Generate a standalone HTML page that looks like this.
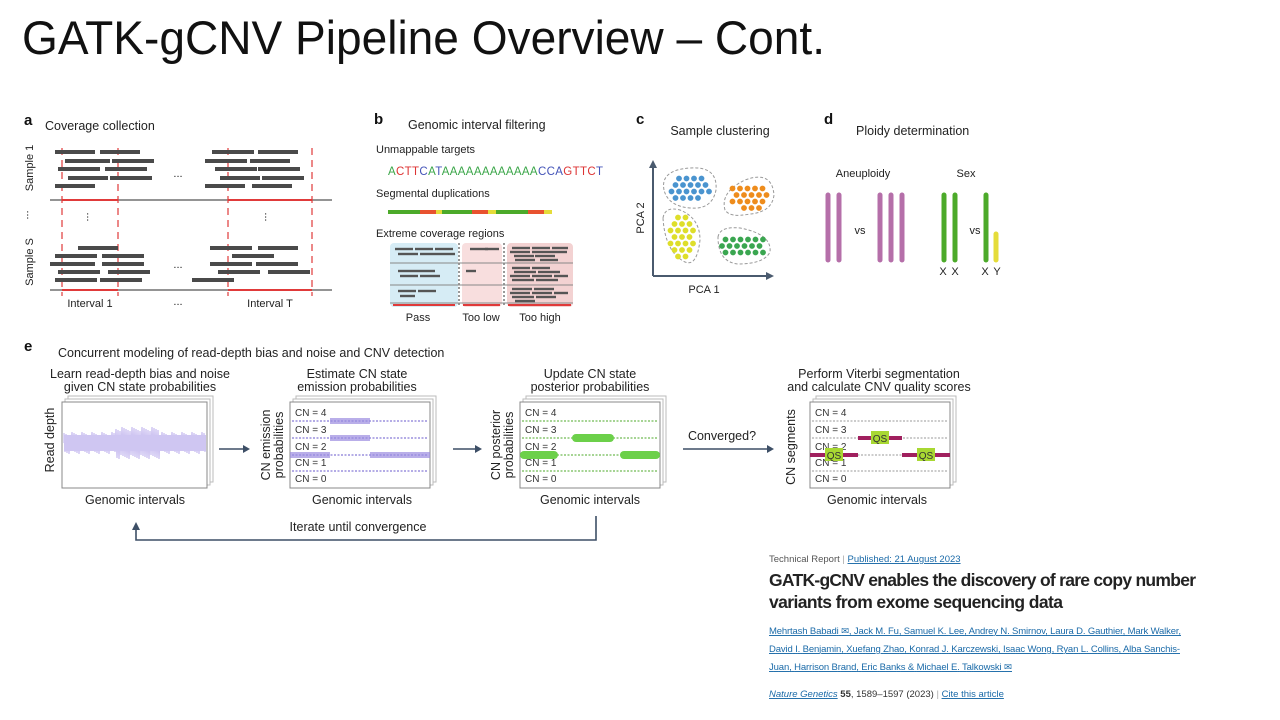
<!DOCTYPE html>
<html><head><meta charset="utf-8"><style>
html,body{margin:0;padding:0;background:#fff;}
svg{display:block;font-family:"Liberation Sans",sans-serif;}
.t{font-size:12.5px;fill:#222}
.s{font-size:11px;fill:#222}
.cn{font-size:10px;fill:#333}
.lnk{font-size:9.5px;fill:#1a6aa8;text-decoration:underline}
</style></head><body>
<svg id="slide" width="1280" height="720" viewBox="0 0 1280 720">
<text x="22" y="54" font-size="47" fill="#111" textLength="803" lengthAdjust="spacingAndGlyphs">GATK-gCNV Pipeline Overview – Cont.</text>

<g id="pa">
<text x="24" y="125" font-weight="bold" font-size="15" fill="#111">a</text>
<text x="45" y="130" class="t">Coverage collection</text>
<text transform="translate(33,168) rotate(-90)" text-anchor="middle" class="s">Sample 1</text>
<text transform="translate(33,262) rotate(-90)" text-anchor="middle" class="s">Sample S</text>
<text x="30" y="218" text-anchor="middle" class="s" transform="rotate(90 30 215)">...</text>
<line x1="50" y1="200" x2="332" y2="200" stroke="#555" stroke-width="1.3"/>
<line x1="50" y1="290" x2="332" y2="290" stroke="#555" stroke-width="1.3"/>
<g stroke="#e03a3a" stroke-width="1.2" stroke-dasharray="7,5">
<line x1="62" y1="148" x2="62" y2="296"/><line x1="118" y1="148" x2="118" y2="296"/>
<line x1="228" y1="148" x2="228" y2="296"/><line x1="312" y1="148" x2="312" y2="296"/></g>
<g stroke="#e03a3a" stroke-width="2"><line x1="62" y1="200" x2="118" y2="200"/><line x1="228" y1="200" x2="312" y2="200"/>
<line x1="62" y1="290" x2="118" y2="290"/><line x1="228" y1="290" x2="312" y2="290"/></g>
<g id="reads"></g>
<text x="178" y="177" text-anchor="middle" class="s">...</text>
<text x="178" y="268" text-anchor="middle" class="s">...</text>
<text x="90" y="220" text-anchor="middle" class="s" transform="rotate(90 90 217)">...</text>
<text x="268" y="220" text-anchor="middle" class="s" transform="rotate(90 268 217)">...</text>
<text x="90" y="307" text-anchor="middle" class="s">Interval 1</text>
<text x="178" y="305" text-anchor="middle" class="s">...</text>
<text x="270" y="307" text-anchor="middle" class="s">Interval T</text>
</g>

<g>
<text x="374" y="124" font-weight="bold" font-size="15" fill="#111">b</text>
<text x="408" y="129" class="t">Genomic interval filtering</text>
<text x="376" y="153" class="s">Unmappable targets</text>
<text x="388" y="175" font-size="11.5" textLength="215"><tspan fill="#3aa648">A</tspan><tspan fill="#d33">CTT</tspan><tspan fill="#4454b8">C</tspan><tspan fill="#3aa648">A</tspan><tspan fill="#4454b8">T</tspan><tspan fill="#3aa648">AAAAAAAAAAAA</tspan><tspan fill="#4454b8">CCA</tspan><tspan fill="#d33">GTTC</tspan><tspan fill="#4454b8">T</tspan></text>
<text x="376" y="197" class="s">Segmental duplications</text>
<g id="segdup"></g>
<text x="376" y="237" class="s">Extreme coverage regions</text>
<rect x="390" y="243" width="68" height="64" rx="4" fill="#d6ecf5"/>
<rect x="462" y="243" width="40" height="64" rx="4" fill="#f8dede"/>
<rect x="507" y="243" width="66" height="64" rx="4" fill="#f3d2d2"/>
<g stroke="#333" stroke-dasharray="2,2"><line x1="459" y1="243" x2="459" y2="307"/><line x1="504" y1="243" x2="504" y2="307"/></g>
<g stroke="#888"><line x1="390" y1="263" x2="573" y2="263"/><line x1="390" y1="285" x2="573" y2="285"/><line x1="390" y1="303" x2="573" y2="303"/></g>
<g id="ecreads"></g>
<text x="418" y="321" text-anchor="middle" class="s">Pass</text>
<text x="481" y="321" text-anchor="middle" class="s">Too low</text>
<text x="540" y="321" text-anchor="middle" class="s">Too high</text>
</g>

<g>
<text x="636" y="124" font-weight="bold" font-size="15" fill="#111">c</text>
<text x="720" y="135" text-anchor="middle" class="t">Sample clustering</text>
<g stroke="#4a5a6e" stroke-width="2" fill="#4a5a6e">
<line x1="653" y1="166" x2="653" y2="276"/><line x1="653" y1="276" x2="768" y2="276"/></g>
<polygon points="653,160 649,168 657,168" fill="#4a5a6e"/><polygon points="774,276 766,272 766,280" fill="#4a5a6e"/>
<text transform="translate(644,218) rotate(-90)" text-anchor="middle" class="s">PCA 2</text>
<text x="704" y="293" text-anchor="middle" class="s">PCA 1</text>
<g fill="none" stroke="#999" stroke-dasharray="3,2">
<path d="M664,190 Q660,170 690,168 Q718,166 716,190 Q712,210 690,208 Q668,206 664,190Z"/>
<path d="M725,210 Q720,192 745,180 Q772,170 774,195 Q772,212 750,214 Q730,218 725,210Z"/>
<path d="M663,218 Q665,206 680,210 Q700,218 700,240 Q697,267 685,262 Q665,252 663,218Z"/>
<path d="M718,237 Q720,226 740,228 Q772,234 770,252 Q764,264 738,264 Q718,262 718,237Z"/></g>
<g id="dots"></g>
</g>

<g>
<text x="824" y="124" font-weight="bold" font-size="15" fill="#111">d</text>
<text x="856" y="135" class="t">Ploidy determination</text>
<text x="863" y="177" text-anchor="middle" class="s">Aneuploidy</text>
<text x="966" y="177" text-anchor="middle" class="s">Sex</text>
<g stroke-linecap="round" stroke-width="5">
<g stroke="#b56fa9"><line x1="828" y1="195" x2="828" y2="260"/><line x1="839" y1="195" x2="839" y2="260"/>
<line x1="880" y1="195" x2="880" y2="260"/><line x1="891" y1="195" x2="891" y2="260"/><line x1="902" y1="195" x2="902" y2="260"/></g>
<g stroke="#4caa2a"><line x1="944" y1="195" x2="944" y2="260"/><line x1="955" y1="195" x2="955" y2="260"/><line x1="986" y1="195" x2="986" y2="260"/></g>
<line x1="996" y1="234" x2="996" y2="260" stroke="#e5dc3a"/></g>
<text x="860" y="234" text-anchor="middle" class="s">vs</text>
<text x="975" y="234" text-anchor="middle" class="s">vs</text>
<text x="943" y="275" text-anchor="middle" class="s">X</text><text x="955" y="275" text-anchor="middle" class="s">X</text>
<text x="985" y="275" text-anchor="middle" class="s">X</text><text x="997" y="275" text-anchor="middle" class="s">Y</text>
</g>

<g>
<text x="24" y="351" font-weight="bold" font-size="15" fill="#111">e</text>
<text x="58" y="357" class="t">Concurrent modeling of read-depth bias and noise and CNV detection</text>
<text x="140" y="378" text-anchor="middle" class="t">Learn read-depth bias and noise</text>
<text x="140" y="391" text-anchor="middle" class="t">given CN state probabilities</text>
<text x="357" y="378" text-anchor="middle" class="t">Estimate CN state</text>
<text x="357" y="391" text-anchor="middle" class="t">emission probabilities</text>
<text x="590" y="378" text-anchor="middle" class="t">Update CN state</text>
<text x="590" y="391" text-anchor="middle" class="t">posterior probabilities</text>
<text x="879" y="378" text-anchor="middle" class="t">Perform Viterbi segmentation</text>
<text x="879" y="391" text-anchor="middle" class="t">and calculate CNV quality scores</text>
<g id="boxes"></g>
<text transform="translate(54,440) rotate(-90)" text-anchor="middle" class="t">Read depth</text>
<text transform="translate(270,445) rotate(-90)" text-anchor="middle" class="t">CN emission</text>
<text transform="translate(283,445) rotate(-90)" text-anchor="middle" class="t">probabilities</text>
<text transform="translate(500,445) rotate(-90)" text-anchor="middle" class="t">CN posterior</text>
<text transform="translate(513,445) rotate(-90)" text-anchor="middle" class="t">probabilities</text>
<text transform="translate(795,447) rotate(-90)" text-anchor="middle" class="t">CN segments</text>
<text x="135" y="504" text-anchor="middle" class="t">Genomic intervals</text>
<text x="362" y="504" text-anchor="middle" class="t">Genomic intervals</text>
<text x="590" y="504" text-anchor="middle" class="t">Genomic intervals</text>
<text x="877" y="504" text-anchor="middle" class="t">Genomic intervals</text>
<g stroke="#3d4f66" stroke-width="1.6" fill="none">
<line x1="219" y1="449" x2="244" y2="449"/><line x1="453" y1="449" x2="476" y2="449"/><line x1="683" y1="449" x2="768" y2="449"/>
<polyline points="596,516 596,540 136,540 136,528"/></g>
<g fill="#3d4f66"><polygon points="250,449 243,445 243,453"/><polygon points="482,449 475,445 475,453"/><polygon points="774,449 767,445 767,453"/><polygon points="136,522 132,530 140,530"/></g>
<text x="722" y="440" text-anchor="middle" class="t">Converged?</text>
<text x="358" y="531" text-anchor="middle" class="t">Iterate until convergence</text>
</g>

<g>
<text x="769" y="562" font-size="9.5" fill="#555">Technical Report <tspan fill="#aaa">|</tspan> <tspan fill="#1a6aa8" text-decoration="underline">Published: 21 August 2023</tspan></text>
<text x="769" y="586" font-size="17.5" font-weight="bold" fill="#222" textLength="427">GATK-gCNV enables the discovery of rare copy number</text>
<text x="769" y="608" font-size="17.5" font-weight="bold" fill="#222" textLength="294">variants from exome sequencing data</text>
<text x="769" y="634" class="lnk" textLength="412">Mehrtash Babadi ✉, Jack M. Fu, Samuel K. Lee, Andrey N. Smirnov, Laura D. Gauthier, Mark Walker,</text>
<text x="769" y="652" class="lnk" textLength="411">David I. Benjamin, Xuefang Zhao, Konrad J. Karczewski, Isaac Wong, Ryan L. Collins, Alba Sanchis-</text>
<text x="769" y="670" class="lnk" textLength="243">Juan, Harrison Brand, Eric Banks &amp; Michael E. Talkowski ✉</text>
<text x="769" y="697" font-size="9.5" fill="#333"><tspan fill="#1a6aa8" font-style="italic" text-decoration="underline">Nature Genetics</tspan> <tspan font-weight="bold">55</tspan>, 1589–1597 (2023) <tspan fill="#aaa">|</tspan> <tspan fill="#1a6aa8" text-decoration="underline">Cite this article</tspan></text>
</g>
</svg>
<script>
const NS="http://www.w3.org/2000/svg";
function mk(p,tag,at){const e=document.createElementNS(NS,tag);for(const k in at)e.setAttribute(k,at[k]);p.appendChild(e);return e;}
const readsA=[[55,152,40],[100,152,40],[65,161,45],[112,161,42],[58,169,42],[105,169,42],[68,178,40],[110,178,42],[55,186,40],
[212,152,42],[258,152,40],[205,161,42],[250,161,40],[215,169,42],[258,169,42],[220,178,40],[262,178,42],[205,186,40],[252,186,40],
[78,248,40],[55,256,42],[102,256,42],[50,264,45],[102,264,42],[58,272,42],[108,272,42],[55,280,42],[100,280,42],
[210,248,42],[258,248,40],[232,256,42],[210,264,42],[256,264,42],[218,272,42],[268,272,42],[192,280,42]];
const gr=document.getElementById('reads');
readsA.forEach(r=>{const e=mk(gr,'rect',{x:r[0],y:r[1]-2,width:r[2],height:4,fill:'#4a4a4a'});

});
const segColors=['#4caa2a','#e8522f','#e5dc3a','#4caa2a','#e8522f','#e5dc3a','#4caa2a','#e8522f','#e5dc3a'];
const segLens=[32,16,6,30,16,8,32,16,8];
const gs=document.getElementById('segdup');let sx=388;
segLens.forEach((l,i)=>{const e=mk(gs,'rect',{x:sx,y:210,width:l,height:4,fill:segColors[i]});sx+=l;

});
const ecReads=[[395,249,18],[415,249,18],[435,249,18],[398,254,20],[420,254,20],[440,254,15],[398,271,22],[420,271,15],[400,276,18],[420,276,20],[398,291,18],[418,291,18],[400,296,15],
[470,249,18],[485,249,14],[466,271,10],
[512,248,18],[532,248,18],[552,248,16],[510,252,20],[532,252,20],[552,252,15],[514,256,20],[535,256,20],[515,260,20],[540,260,18],
[512,268,18],[532,268,18],[514,272,22],[538,272,22],[510,276,20],[532,276,20],[554,276,14],[512,280,22],[536,280,22],
[512,289,20],[534,289,20],[510,293,20],[532,293,20],[554,293,14],[512,297,22],[536,297,20],[515,301,20]];
const ge=document.getElementById('ecreads');
ecReads.forEach(r=>{const e=mk(ge,'rect',{x:r[0],y:r[1]-1.2,width:r[2],height:2.4,fill:'#555'});

});
[[393,455],[463,500],[508,571]].forEach(s=>mk(ge,'line',{x1:s[0],y1:305,x2:s[1],y2:305,stroke:'#e03a3a','stroke-width':2}));
const clusterCx=[690,749,681,744],clusterCy=[187,196,235,246],clusterRx=[22,20,14,22],clusterRy=[15,14,24,13];
const clusterCol=['#4a94cf','#ee8c1c','#dede2a','#3aa650'];
const gd=document.getElementById('dots');
clusterCx.forEach((cx,c)=>{for(let y=clusterCy[c]-clusterRy[c];y<=clusterCy[c]+clusterRy[c];y+=6.5){const row=Math.round((y-clusterCy[c])/6.5);
for(let x=cx-clusterRx[c]+(row%2?3.5:0);x<=cx+clusterRx[c];x+=7.5){
if(((x-cx)/clusterRx[c])**2+((y-clusterCy[c])/clusterRy[c])**2<=1){const e=mk(gd,'circle',{cx:x,cy:y,r:2.9,fill:clusterCol[c]});

}}}});
const gb=document.getElementById('boxes');
const boxX=[62,290,520,810],boxW=[145,140,140,140],boxY=402;
boxX.forEach((x,i)=>{for(let k=2;k>=0;k--){const e=mk(gb,'rect',{x:x+k*3,y:boxY-k*3,width:boxW[i],height:86,fill:'#fff',stroke:k?'#bbb':'#888','stroke-width':1});

}});
let d='M64,443';for(let x=64;x<206;x+=2){const lvl=(x>115&&x<160)?12:7;d+=` L${x},${443-lvl-((x*7)%5)} L${x+1},${443+lvl+((x*3)%5)}`;}
mk(gb,'path',{d:d,stroke:'#c8bdf0','stroke-width':1.2,fill:'none'});
mk(gb,'rect',{x:64,y:435,width:142,height:16,fill:'#cfc6f2'});
const cnLabels=['CN = 4','CN = 3','CN = 2','CN = 1','CN = 0'];
const rowY=[421,438,455,471,487];
[[290,'#6a5acd'],[520,'#4caa2a'],[810,'#999']].forEach((b,bi)=>{cnLabels.forEach((l,i)=>{
mk(gb,'text',{x:b[0]+5,y:rowY[i]-5,class:'cn'}).textContent=l;
if(i<4)mk(gb,'line',{x1:b[0]+2,y1:rowY[i],x2:b[0]+138,y2:rowY[i],stroke:b[1],'stroke-dasharray':'2,1.5','stroke-width':1});});});
[[290,40,455],[330,40,438],[330,40,421],[370,60,455]].forEach(s=>mk(gb,'rect',{x:s[0],y:s[2]-3,width:s[1],height:6,fill:'#9b8ce0',opacity:.7}));
[[520,38,455,8],[572,42,438,8],[620,40,455,8]].forEach(s=>mk(gb,'rect',{x:s[0],y:s[2]-s[3]/2,width:s[1],height:s[3],rx:4,fill:'#6cd04a'}));
[[810,858,455],[858,902,438],[902,950,455]].forEach(s=>{mk(gb,'line',{x1:s[0],y1:s[2],x2:s[1],y2:s[2],stroke:'#a0205e','stroke-width':4});
mk(gb,'rect',{x:(s[0]+s[1])/2-9,y:s[2]-7,width:18,height:13,fill:'#a8d832'});
mk(gb,'text',{x:(s[0]+s[1])/2,y:s[2]+4,'text-anchor':'middle',class:'cn'}).textContent='QS';});
</script>
</body></html>
